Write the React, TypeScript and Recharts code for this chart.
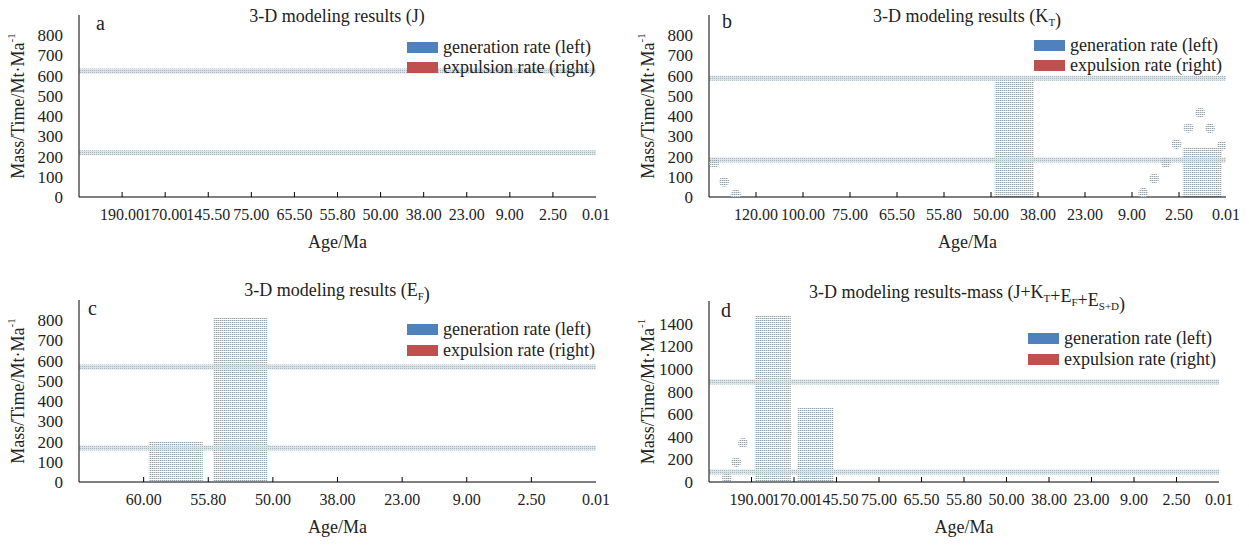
import React from "react";
import { ComposedChart, Bar, Scatter, XAxis, YAxis, ReferenceLine, Legend } from "recharts";

const SERIF = '"Liberation Serif", "Times New Roman", Times, serif';

// age categories (Ma) for each panel
const agesJ = ["190.00", "170.00", "145.50", "75.00", "65.50", "55.80", "50.00", "38.00", "23.00", "9.00", "2.50", "0.01"];
const agesKT = ["120.00", "100.00", "75.00", "65.50", "55.80", "50.00", "38.00", "23.00", "9.00", "2.50", "0.01"];
const agesEF = ["60.00", "55.80", "50.00", "38.00", "23.00", "9.00", "2.50", "0.01"];
const agesAll = ["190.00", "170.00", "145.50", "75.00", "65.50", "55.80", "50.00", "38.00", "23.00", "9.00", "2.50", "0.01"];

// generation rate (bars)
const genJ = [0, 0, 0, 0, 0, 0, 0, 0, 0, 0, 0, 0];
const genKT = [null, null, null, null, null, null, 593, null, null, null, 247];
const genEF = [null, 203, 811, null, null, null, null, null];
const genAll = [null, 1476, 654, null, null, null, null, null, null, null, null, null];

// expulsion rate (dots), position in category units
const expJpos: number[] = [];
const expJval: number[] = [];
const expKTpos = [0.11, 0.32, 0.57, 9.24, 9.47, 9.72, 9.95, 10.2, 10.45, 10.66, 10.91];
const expKTval = [167, 76, 13, 21, 92, 170, 262, 343, 417, 340, 254];
const expEFpos: number[] = [];
const expEFval: number[] = [];
const expAllpos = [0.42, 0.64, 0.8, 1.84];
const expAllval = [35, 177, 345, 433];

// horizontal bands
const bandJ = [623, 219];
const bandKT = [587, 183];
const bandEF = [569, 168];
const bandAll = [884, 88];

const ticks900 = [0, 100, 200, 300, 400, 500, 600, 700, 800];
const ticks1600 = [0, 200, 400, 600, 800, 1000, 1200, 1400];

const legendNames = ["generation rate (left)", "expulsion rate (right)"];
const legendColors = ["#4F81BD", "#C0504D"];

const AgeTick = (props: any) => {
  const { x, y, index, step, last, payload } = props;
  const bx = x + step / 2;
  return (
    <g>
      {index < last && <line x1={bx} y1={y} x2={bx} y2={y - 5} stroke="#000" />}
      <text x={bx} y={y + 23} textAnchor="middle" fontSize={16} fontFamily={SERIF} fill="#222">
        {payload.value}
      </text>
    </g>
  );
};

const AgeLabel = (props: any) => {
  const vb = props.viewBox || {};
  return (
    <text x={vb.x + vb.width / 2} y={vb.y + 51} textAnchor="middle" fontSize={18} fontFamily={SERIF} fill="#222">
      Age/Ma
    </text>
  );
};

const YTitle = (props: any) => {
  const vb = props.viewBox || {};
  const cx = vb.x + 18;
  const cy = vb.y + vb.height / 2;
  return (
    <text x={cx} y={cy} transform={`rotate(-90 ${cx} ${cy})`} textAnchor="middle" dominantBaseline="central" fontSize={18} fontFamily={SERIF} fill="#222">
      Mass/Time/Mt·Ma<tspan dy={-7} fontSize={11}>-1</tspan>
    </text>
  );
};

const Blob = (props: any) => <circle cx={props.cx} cy={props.cy} r={5} fill={props.pat} />;

const LegendBox = (props: any) => {
  const items = [...(props.payload || [])].sort((a: any, b: any) => legendNames.indexOf(a.value) - legendNames.indexOf(b.value));
  return (
    <div style={{ fontFamily: SERIF, fontSize: 18, color: "#222" }}>
      {items.map((e: any) => (
        <div key={e.value} style={{ display: "flex", alignItems: "center", height: props.pitch, whiteSpace: "nowrap" }}>
          <span style={{ display: "inline-block", width: 31, height: 11, background: legendColors[legendNames.indexOf(e.value)], marginRight: 5 }} />
          {e.value}
        </div>
      ))}
    </div>
  );
};

type PanelProps = {
  id: string;
  left: number;
  top: number;
  width: number;
  height: number;
  mTop: number;
  mRight: number;
  mBottom: number;
  ages: string[];
  gen: (number | null)[];
  expPos: number[];
  expVal: number[];
  bands: number[];
  yMax: number;
  yTicks: number[];
  title: React.ReactNode;
  titleX: number;
  titleY: number;
  letter: string;
  letterX: number;
  letterY: number;
  legendX: number;
  legendY: number;
  legendPitch: number;
};

const Panel = (p: PanelProps) => {
  const data = p.ages.map((age, i) => ({ age, gen: p.gen[i] }));
  const dots = p.expPos.map((pos, i) => ({ pos, exp: p.expVal[i] }));
  const step = (p.width - 79 - p.mRight) / p.ages.length;
  return (
    <div style={{ position: "absolute", left: p.left, top: p.top }}>
      <ComposedChart
        width={p.width}
        height={p.height}
        data={data}
        margin={{ top: p.mTop, right: p.mRight, bottom: p.mBottom, left: 0 }}
        barCategoryGap="8%"
      >
        <defs>
          <pattern id={`${p.id}-dots`} width="2" height="2" patternUnits="userSpaceOnUse">
            <rect x="0" y="0" width="1" height="1" fill="#93a1aa" />
            <rect x="1" y="0" width="1" height="1" fill="#d0d7db" />
          </pattern>
          <pattern id={`${p.id}-band`} width="2" height="2" patternUnits="userSpaceOnUse">
            <rect x="0" y="0" width="2" height="2" fill="#dde4e7" />
            <rect x="0" y="0" width="1" height="1" fill="#a8b6bd" />
          </pattern>
        </defs>
        <XAxis
          xAxisId="cat"
          dataKey="age"
          type="category"
          interval={0}
          tickLine={false}
          tickSize={0}
          tickMargin={0}
          height={56}
          axisLine={{ stroke: "#000" }}
          tick={<AgeTick step={step} last={p.ages.length - 1} />}
          label={<AgeLabel />}
        />
        <XAxis xAxisId="pos" type="number" dataKey="pos" domain={[0, p.ages.length]} allowDataOverflow hide />
        <YAxis
          yAxisId="y"
          width={79}
          type="number"
          domain={[0, p.yMax]}
          allowDataOverflow
          ticks={p.yTicks}
          interval={0}
          tickLine={false}
          tickSize={0}
          tickMargin={16}
          axisLine={{ stroke: "#000" }}
          tick={{ fontSize: 17, fill: "#222", fontFamily: SERIF }}
          label={<YTitle />}
        />
        <Bar xAxisId="cat" yAxisId="y" dataKey="gen" name={legendNames[0]} fill={`url(#${p.id}-dots)`} isAnimationActive={false} />
        <Scatter
          xAxisId="pos"
          yAxisId="y"
          data={dots}
          dataKey="exp"
          name={legendNames[1]}
          fill="#C0504D"
          shape={<Blob pat={`url(#${p.id}-dots)`} />}
          isAnimationActive={false}
        />
        {p.bands.map((v) => (
          <ReferenceLine key={v} xAxisId="cat" yAxisId="y" y={v} stroke={`url(#${p.id}-band)`} strokeWidth={5} />
        ))}
        <Legend
          layout="vertical"
          align="center"
          verticalAlign="middle"
          content={<LegendBox pitch={p.legendPitch} />}
          wrapperStyle={{ left: p.legendX, top: p.legendY, width: "auto", height: "auto" }}
        />
        <text x={p.titleX} y={p.titleY} textAnchor="middle" fontSize={18} fontFamily={SERIF} fill="#222">
          {p.title}
        </text>
        <text x={p.letterX} y={p.letterY} fontSize={20} fontFamily={SERIF} fill="#222">
          {p.letter}
        </text>
      </ComposedChart>
    </div>
  );
};

const sub = (s: string) => (
  <>
    <tspan dy={4} fontSize={11}>{s}</tspan>
    <tspan dy={-4}></tspan>
  </>
);

const App = () => (
  <div style={{ position: "absolute", left: 0, top: 0, width: 1249, height: 545, background: "#fff" }}>
    <Panel
      id="pa" left={0} top={0} width={630} height={270} mTop={15} mRight={34} mBottom={17}
      ages={agesJ} gen={genJ} expPos={expJpos} expVal={expJval} bands={bandJ}
      yMax={900} yTicks={ticks900}
      title={<>3-D modeling results (J)</>} titleX={337} titleY={22}
      letter="a" letterX={96} letterY={30}
      legendX={407} legendY={37} legendPitch={20}
    />
    <Panel
      id="pb" left={630} top={0} width={619} height={270} mTop={15} mRight={23} mBottom={17}
      ages={agesKT} gen={genKT} expPos={expKTpos} expVal={expKTval} bands={bandKT}
      yMax={900} yTicks={ticks900}
      title={<>3-D modeling results (K{sub("T")})</>} titleX={337} titleY={22}
      letter="b" letterX={92} letterY={28}
      legendX={404} legendY={35} legendPitch={20}
    />
    <Panel
      id="pc" left={0} top={270} width={630} height={275} mTop={30} mRight={34} mBottom={7}
      ages={agesEF} gen={genEF} expPos={expEFpos} expVal={expEFval} bands={bandEF}
      yMax={900} yTicks={ticks900}
      title={<>3-D modeling results (E{sub("F")})</>} titleX={337} titleY={26}
      letter="c" letterX={88} letterY={45}
      legendX={407} legendY={49} legendPitch={21}
    />
    <Panel
      id="pd" left={630} top={270} width={619} height={275} mTop={31} mRight={30} mBottom={7}
      ages={agesAll} gen={genAll} expPos={expAllpos} expVal={expAllval} bands={bandAll}
      yMax={1600} yTicks={ticks1600}
      title={<>3-D modeling results-mass (J+K{sub("T")}+E{sub("F")}+E{sub("S+D")})</>} titleX={337} titleY={28}
      letter="d" letterX={91} letterY={47}
      legendX={398} legendY={58} legendPitch={21}
    />
  </div>
);

export default App;
